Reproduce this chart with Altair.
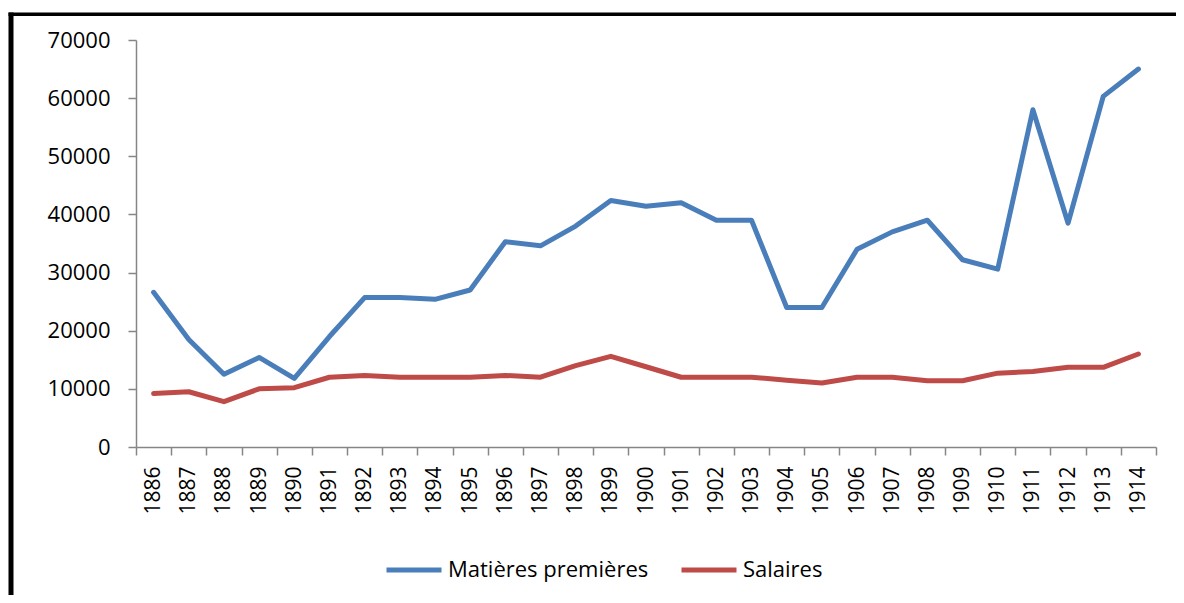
import altair as alt
import pandas as pd

years = ["1886", "1887", "1888", "1889", "1890", "1891", "1892", "1893", "1894", "1895",
         "1896", "1897", "1898", "1899", "1900", "1901", "1902", "1903", "1904", "1905",
         "1906", "1907", "1908", "1909", "1910", "1911", "1912", "1913", "1914"]
matieres = [26600, 18500, 12500, 15400, 11800, 19000, 25700, 25700, 25400, 27000,
            35300, 34600, 38000, 42400, 41400, 42000, 39000, 39000, 24000, 24000,
            34000, 37000, 39000, 32200, 30600, 58000, 38500, 60300, 65000]
salaires = [9200, 9500, 7800, 10000, 10200, 12000, 12300, 12000, 12000, 12000,
            12300, 12000, 14000, 15600, 13800, 12000, 12000, 12000, 11500, 11000,
            12000, 12000, 11400, 11400, 12700, 13000, 13700, 13700, 16000]
series_names = ["Matières premières", "Salaires"]
series_colors = ["#4A7EBB", "#BE4B48"]

rows = []
for i, y in enumerate(years):
    rows.append({"annee": y, "serie": series_names[0], "valeur": matieres[i]})
    rows.append({"annee": y, "serie": series_names[1], "valeur": salaires[i]})
df = pd.DataFrame(rows)

FONT = "Open Sans"

lines = alt.Chart(df).mark_line(strokeWidth=5, strokeCap="round", strokeJoin="round").encode(
    x=alt.X("annee:O", sort=years,
            scale=alt.Scale(type="band", paddingInner=0, paddingOuter=0),
            axis=alt.Axis(title=None, labelAngle=270, tickBand="extent",
                          labelFontSize=21, labelPadding=11, labelColor="#000000")),
    y=alt.Y("valeur:Q", scale=alt.Scale(domain=[0, 70000], nice=False),
            axis=alt.Axis(title=None, values=[0, 10000, 20000, 30000, 40000, 50000, 60000, 70000],
                          format="d", grid=False, labelFontSize=22, labelPadding=18,
                          labelColor="#000000")),
    color=alt.Color("serie:N",
                    scale=alt.Scale(domain=series_names, range=series_colors),
                    legend=alt.Legend(title=None, orient="none", legendX=248, legendY=500,
                                      direction="horizontal", symbolType="stroke",
                                      symbolSize=3025, symbolStrokeWidth=5,
                                      labelFontSize=22, labelOffset=4, columnPadding=22,
                                      labelLimit=500,
                                      labelColor="#000000", labelFont=FONT)),
)

frame = pd.DataFrame({"k": [0]})
left_border = alt.Chart(frame).mark_rect(color="#000000", strokeWidth=0).encode(
    x=alt.value(-127.5), x2=alt.value(-122.5), y=alt.value(-27.5), y2=alt.value(560))
top_border = alt.Chart(frame).mark_rect(color="#000000", strokeWidth=0).encode(
    x=alt.value(-127.5), x2=alt.value(1040), y=alt.value(-27.5), y2=alt.value(-24))

chart = alt.layer(lines, left_border, top_border).properties(
    width=1020, height=407,
    padding={"left": 128, "top": 32, "right": 20, "bottom": 148},
    autosize=alt.AutoSizeParams(type="none"),
    background="#ffffff",
).configure_view(strokeWidth=0).configure_axis(
    domainColor="#868686", tickColor="#868686", domainWidth=1.5, tickWidth=1.5,
    tickSize=8, labelFont=FONT,
).configure_legend(labelFont=FONT)

chart.save("out.html", embed_options={"renderer": "svg", "actions": False})
